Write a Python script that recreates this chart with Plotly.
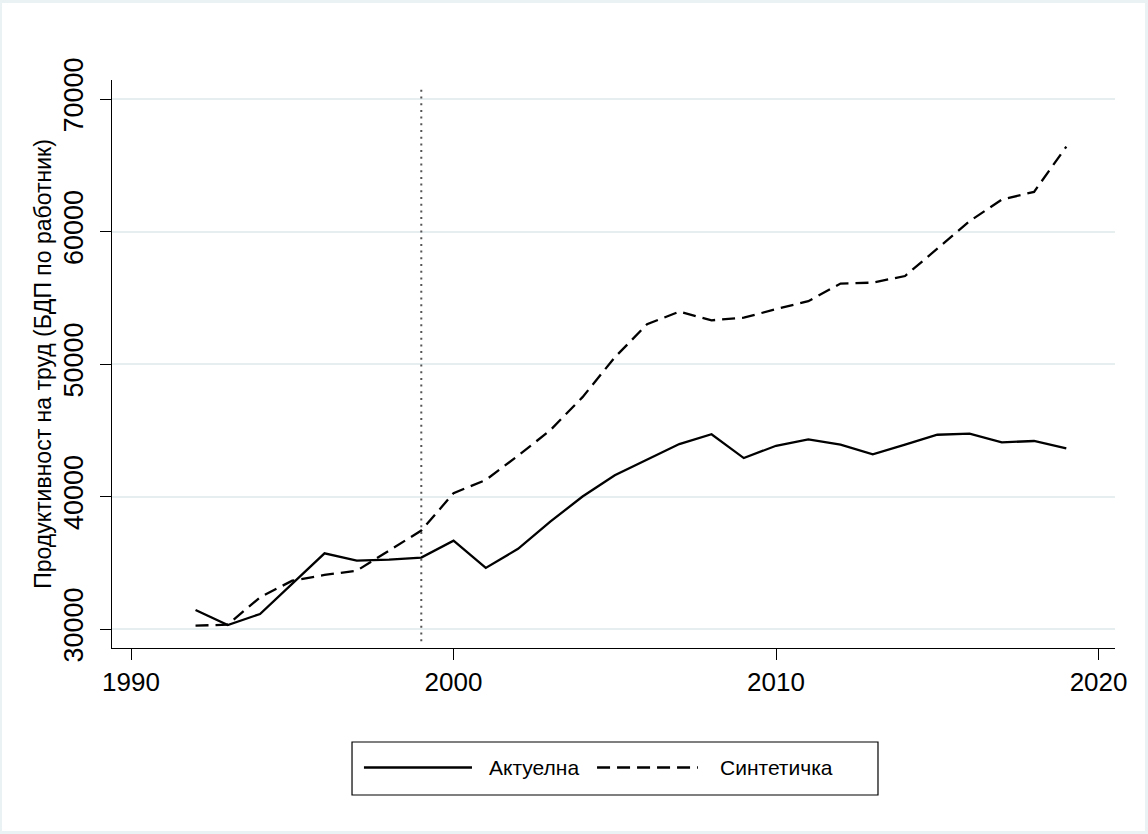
import plotly.graph_objects as go

years = list(range(1992, 2020))
actual = [31440, 30300, 31130, 33400, 35710, 35160, 35240, 35390, 36670, 34610,
          36050, 38100, 40000, 41600, 42750, 43960, 44700, 42900, 43830, 44310,
          43910, 43180, 43910, 44660, 44740, 44090, 44190, 43630]
synthetic = [30250, 30330, 32390, 33650, 34080, 34400, 35920, 37430, 40250, 41250,
             43080, 45000, 47500, 50500, 53000, 53950, 53300, 53500, 54140, 54740,
             56070, 56140, 56640, 58700, 60780, 62410, 62990, 66400]
series_names = ["Актуелна", "Синтетичка"]
x_ticks = [1990, 2000, 2010, 2020]
y_ticks = [30000, 40000, 50000, 60000, 70000]
treatment_year = 1999
y_title = "Продуктивност на труд (БДП по работник)"

FONT = "Liberation Sans, Arial, Helvetica, sans-serif"
GRID = "#e6eef0"
BAND = "#eaf2f3"
DASH = "13px,7px"
LW = 2.3

fig = go.Figure()
fig.add_trace(go.Scatter(x=years, y=actual, mode="lines", name=series_names[0],
                         line=dict(color="black", width=LW), showlegend=False))
fig.add_trace(go.Scatter(x=years, y=synthetic, mode="lines", name=series_names[1],
                         line=dict(color="black", width=LW, dash=DASH), showlegend=False))

shapes = []
# white graph region inside light bluish outer band
shapes.append(dict(type="rect", xref="paper", yref="paper", layer="below",
                   x0=-0.1097, x1=1.0299, y0=-0.3222, y1=1.1356,
                   fillcolor="white", line=dict(width=0)))
# vertical dotted reference line
shapes.append(dict(type="line", xref="x", yref="y domain", x0=treatment_year, x1=treatment_year,
                   y0=0.012, y1=0.988, line=dict(color="#555555", width=2, dash="2px,4.7px")))
# legend box
lx0, lx1, ly0, ly1 = 0.2393, 0.7637, -0.2588, -0.1655
lyc = -0.2104
shapes.append(dict(type="rect", xref="paper", yref="paper", x0=lx0, x1=lx1, y0=ly0, y1=ly1,
                   fillcolor="white", line=dict(color="black", width=1.2)))
shapes.append(dict(type="line", xref="paper", yref="paper", x0=0.2512, x1=0.3589, y0=lyc, y1=lyc,
                   line=dict(color="black", width=LW)))
shapes.append(dict(type="line", xref="paper", yref="paper", x0=0.4836, x1=0.5842, y0=lyc, y1=lyc,
                   line=dict(color="black", width=LW, dash=DASH)))

annotations = [
    dict(xref="paper", yref="paper", x=0.3739, y=lyc, text=series_names[0], showarrow=False,
         xanchor="left", yanchor="middle", font=dict(family=FONT, size=21, color="black")),
    dict(xref="paper", yref="paper", x=0.6042, y=lyc, text=series_names[1], showarrow=False,
         xanchor="left", yanchor="middle", font=dict(family=FONT, size=21, color="black")),
]

fig.update_layout(
    width=1148, height=834,
    margin=dict(l=112, r=33, t=80, b=186, autoexpand=False),
    paper_bgcolor=BAND, plot_bgcolor="white",
    font=dict(family=FONT, color="black"),
    shapes=shapes, annotations=annotations,
    showlegend=False,
)
fig.update_xaxes(
    range=[1989.41, 2020.51], tickvals=x_ticks, ticktext=[str(v) for v in x_ticks],
    showgrid=False, zeroline=False, showline=True, linecolor="black", linewidth=1.3,
    ticks="outside", ticklen=11, tickwidth=1.3, tickcolor="black",
    tickfont=dict(family=FONT, size=26, color="black"), ticklabelstandoff=0,
    automargin=False,
)
fig.update_yaxes(
    range=[28566, 71434], tickvals=y_ticks, tickformat="d",
    showgrid=True, gridcolor=GRID, gridwidth=1.7, zeroline=False,
    showline=True, linecolor="black", linewidth=1.3,
    ticks="outside", ticklen=11, tickwidth=1.3, tickcolor="black", tickangle=-90,
    tickfont=dict(family=FONT, size=27, color="black"), ticklabelstandoff=6,
    title=dict(text=y_title, font=dict(family=FONT, size=23, color="black"), standoff=0),
    automargin=False,
)

fig.write_html(
    "out.html",
    config={"displayModeBar": False},
    post_script="document.body.style.margin='0';document.body.style.overflow='hidden';",
)
